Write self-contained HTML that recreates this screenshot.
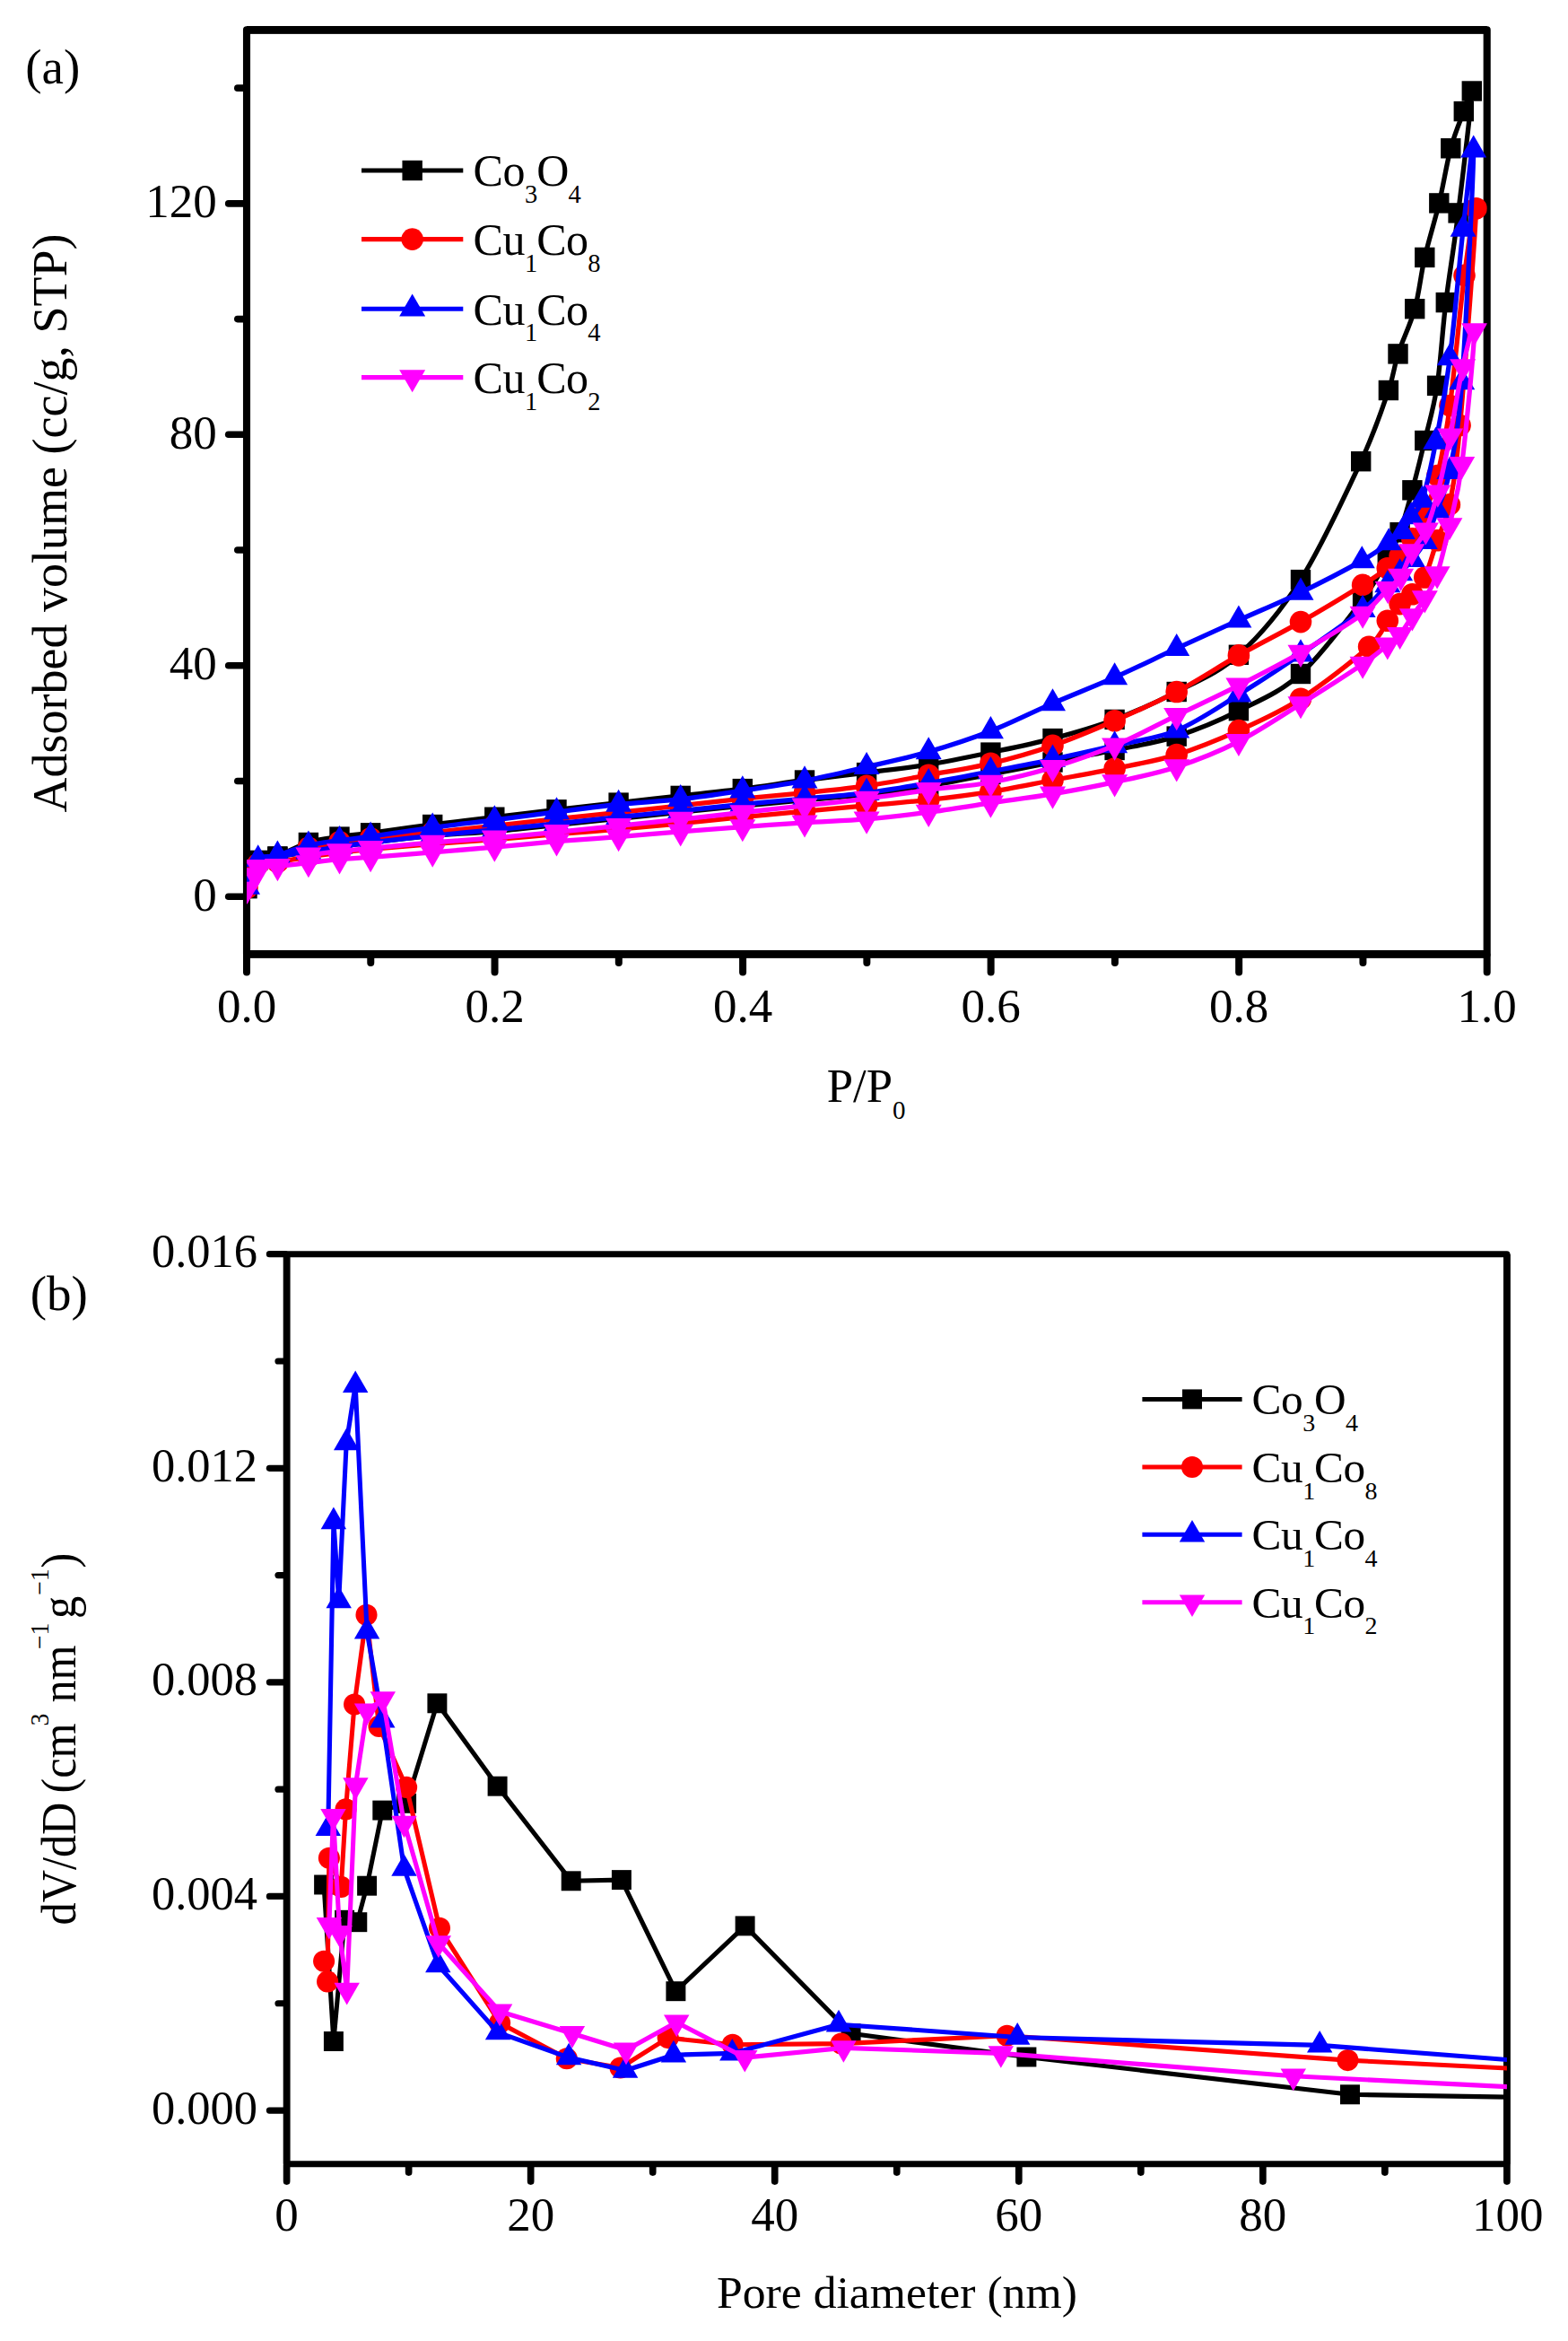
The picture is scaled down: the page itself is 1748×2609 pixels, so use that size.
<!DOCTYPE html>
<html lang="en"><head><meta charset="utf-8"><title>N2 adsorption isotherms and pore size distribution</title>
<style>html,body{margin:0;padding:0;background:#fff}svg{display:block}</style></head>
<body>
<svg width="1748" height="2609" viewBox="0 0 1748 2609" font-family='"Liberation Serif", serif' fill="#000">
<rect width="1748" height="2609" fill="#fff"/>
<defs><clipPath id="ca"><rect x="275.00" y="33.35" width="1382.70" height="1030.05"/></clipPath><clipPath id="cb"><rect x="319.60" y="1397.70" width="1360.30" height="1014.00"/></clipPath></defs>
<g stroke="#000" stroke-width="7.6" stroke-linecap="round">
<line x1="254.7" x2="272" y1="999.20" y2="999.20"/>
<line x1="254.7" x2="272" y1="741.76" y2="741.76"/>
<line x1="254.7" x2="272" y1="484.32" y2="484.32"/>
<line x1="254.7" x2="272" y1="226.88" y2="226.88"/>
<line x1="264.8" x2="272" y1="870.48" y2="870.48"/>
<line x1="264.8" x2="272" y1="613.04" y2="613.04"/>
<line x1="264.8" x2="272" y1="355.60" y2="355.60"/>
<line x1="264.8" x2="272" y1="98.16" y2="98.16"/>
<line x1="275.00" x2="275.00" y1="1065" y2="1083.40" stroke-width="8.0"/>
<line x1="413.27" x2="413.27" y1="1065" y2="1073.10" stroke-width="8.0"/>
<line x1="551.54" x2="551.54" y1="1065" y2="1083.40" stroke-width="8.0"/>
<line x1="689.81" x2="689.81" y1="1065" y2="1073.10" stroke-width="8.0"/>
<line x1="828.08" x2="828.08" y1="1065" y2="1083.40" stroke-width="8.0"/>
<line x1="966.35" x2="966.35" y1="1065" y2="1073.10" stroke-width="8.0"/>
<line x1="1104.62" x2="1104.62" y1="1065" y2="1083.40" stroke-width="8.0"/>
<line x1="1242.89" x2="1242.89" y1="1065" y2="1073.10" stroke-width="8.0"/>
<line x1="1381.16" x2="1381.16" y1="1065" y2="1083.40" stroke-width="8.0"/>
<line x1="1519.43" x2="1519.43" y1="1065" y2="1073.10" stroke-width="8.0"/>
<line x1="1657.70" x2="1657.70" y1="1065" y2="1083.40" stroke-width="8.0"/>
</g>
<g stroke="#000" fill="none"><rect x="275.00" y="33.35" width="1382.70" height="1030.05" stroke-width="8.10" stroke-linejoin="round"/><line x1="275.00" x2="1657.70" y1="33.35" y2="33.35" stroke-width="8.90"/><line x1="275.00" x2="1657.70" y1="1063.40" y2="1063.40" stroke-width="8.90"/></g>
<g stroke="#000" stroke-width="7.2" stroke-linecap="round">
<line x1="300.40" x2="318" y1="2352.05" y2="2352.05"/>
<line x1="310.00" x2="318" y1="2232.76" y2="2232.76"/>
<line x1="300.40" x2="318" y1="2113.46" y2="2113.46"/>
<line x1="310.00" x2="318" y1="1994.17" y2="1994.17"/>
<line x1="300.40" x2="318" y1="1874.87" y2="1874.87"/>
<line x1="310.00" x2="318" y1="1755.58" y2="1755.58"/>
<line x1="300.40" x2="318" y1="1636.29" y2="1636.29"/>
<line x1="310.00" x2="318" y1="1516.99" y2="1516.99"/>
<line x1="300.40" x2="318" y1="1397.70" y2="1397.70"/>
<line x1="319.60" x2="319.60" y1="2413" y2="2431.10" stroke-width="7.7"/>
<line x1="455.63" x2="455.63" y1="2413" y2="2421.10" stroke-width="7.7"/>
<line x1="591.66" x2="591.66" y1="2413" y2="2431.10" stroke-width="7.7"/>
<line x1="727.69" x2="727.69" y1="2413" y2="2421.10" stroke-width="7.7"/>
<line x1="863.72" x2="863.72" y1="2413" y2="2431.10" stroke-width="7.7"/>
<line x1="999.75" x2="999.75" y1="2413" y2="2421.10" stroke-width="7.7"/>
<line x1="1135.78" x2="1135.78" y1="2413" y2="2431.10" stroke-width="7.7"/>
<line x1="1271.81" x2="1271.81" y1="2413" y2="2421.10" stroke-width="7.7"/>
<line x1="1407.84" x2="1407.84" y1="2413" y2="2431.10" stroke-width="7.7"/>
<line x1="1543.87" x2="1543.87" y1="2413" y2="2421.10" stroke-width="7.7"/>
<line x1="1679.90" x2="1679.90" y1="2413" y2="2431.10" stroke-width="7.7"/>
</g>
<g stroke="#000" fill="none"><rect x="319.60" y="1397.70" width="1360.30" height="1014.00" stroke-width="7.10" stroke-linejoin="round"/><line x1="319.60" x2="319.60" y1="1397.70" y2="2411.70" stroke-width="7.80"/><line x1="1679.90" x2="1679.90" y1="1397.70" y2="2411.70" stroke-width="7.80"/></g>
<g font-size="53" text-anchor="middle">
<text x="275.00" y="1139">0.0</text>
<text x="551.54" y="1139">0.2</text>
<text x="828.08" y="1139">0.4</text>
<text x="1104.62" y="1139">0.6</text>
<text x="1381.16" y="1139">0.8</text>
<text x="1657.70" y="1139">1.0</text>
<text x="319.60" y="2486">0</text>
<text x="591.66" y="2486">20</text>
<text x="863.72" y="2486">40</text>
<text x="1135.78" y="2486">60</text>
<text x="1407.84" y="2486">80</text>
<text x="1680.70" y="2486">100</text>
</g>
<g font-size="53" text-anchor="end">
<text x="241.8" y="1014.80">0</text>
<text x="241.8" y="757.36">40</text>
<text x="241.8" y="499.92">80</text>
<text x="241.8" y="242.48">120</text>
<text x="287" y="2366.65" font-size="52.5">0.000</text>
<text x="287" y="2128.06" font-size="52.5">0.004</text>
<text x="287" y="1889.47" font-size="52.5">0.008</text>
<text x="287" y="1650.89" font-size="52.5">0.012</text>
<text x="287" y="1412.30" font-size="52.5">0.016</text>
</g>
<text x="28.3" y="93" font-size="55">(a)</text>
<text x="33.8" y="1460" font-size="55">(b)</text>
<text transform="translate(73.8,905.4) rotate(-90)" font-size="54">Adsorbed volume (cc/g, STP)</text>
<text x="921.8" y="1228.3" font-size="52.7">P/P<tspan font-size="29" dy="19">0</tspan></text>
<text x="799" y="2572.2" font-size="51.7">Pore diameter (nm)</text>
<text transform="translate(84,2145.4) rotate(-90) scale(0.93,1)" font-size="54"><tspan font-size="54" x="0.00" y="0">dV/dD </tspan><tspan font-size="54" x="157.96" y="0">(cm</tspan><tspan font-size="30" x="238.60" y="-30.5">3 </tspan><tspan font-size="54" x="266.56" y="0">nm</tspan><tspan font-size="30" x="330.54" y="-30.5">−</tspan><tspan font-size="30" x="347.20" y="-30.5">1 </tspan><tspan font-size="54" x="367.10" y="0">g</tspan><tspan font-size="30" x="395.27" y="-30.5">−</tspan><tspan font-size="30" x="411.94" y="-30.5">1</tspan><tspan font-size="54" x="427.85" y="0">)</tspan></text>
<line x1="403.00" x2="516.30" y1="190.00" y2="190.00" stroke="#000000" stroke-width="5.10"/>
<rect x="448.45" y="178.80" width="22.40" height="22.40" fill="#000000"/>
<text x="527.60" y="207.40" font-size="50.0" letter-spacing="-0.45">Co<tspan font-size="28.5" dy="18.8">3</tspan><tspan dy="-18.8" dx="-0.7">O</tspan><tspan font-size="28.5" dy="18.8" dx="-0.3">4</tspan></text>
<line x1="403.00" x2="516.30" y1="266.60" y2="266.60" stroke="#ff0000" stroke-width="5.10"/>
<circle cx="459.65" cy="266.60" r="12.30" fill="#ff0000"/>
<text x="527.60" y="284.00" font-size="50.0" letter-spacing="-0.45">Cu<tspan font-size="28.5" dy="18.8">1</tspan><tspan dy="-18.8" dx="-0.7">Co</tspan><tspan font-size="28.5" dy="18.8" dx="-0.3">8</tspan></text>
<line x1="403.00" x2="516.30" y1="344.20" y2="344.20" stroke="#0000ff" stroke-width="5.10"/>
<path d="M459.65,327.46 L474.15,352.57 L445.15,352.57 Z" fill="#0000ff"/>
<text x="527.60" y="361.60" font-size="50.0" letter-spacing="-0.45">Cu<tspan font-size="28.5" dy="18.8">1</tspan><tspan dy="-18.8" dx="-0.7">Co</tspan><tspan font-size="28.5" dy="18.8" dx="-0.3">4</tspan></text>
<line x1="403.00" x2="516.30" y1="420.60" y2="420.60" stroke="#ff00ff" stroke-width="5.10"/>
<path d="M459.65,437.34 L474.15,412.23 L445.15,412.23 Z" fill="#ff00ff"/>
<text x="527.60" y="438.00" font-size="50.0" letter-spacing="-0.45">Cu<tspan font-size="28.5" dy="18.8">1</tspan><tspan dy="-18.8" dx="-0.7">Co</tspan><tspan font-size="28.5" dy="18.8" dx="-0.3">2</tspan></text>
<line x1="1273.40" x2="1384.60" y1="1559.40" y2="1559.40" stroke="#000000" stroke-width="5.00"/>
<rect x="1318.02" y="1548.42" width="21.95" height="21.95" fill="#000000"/>
<text x="1395.60" y="1576.45" font-size="49.3" letter-spacing="-0.45">Co<tspan font-size="28.0" dy="18.5">3</tspan><tspan dy="-18.5" dx="-0.7">O</tspan><tspan font-size="28.0" dy="18.5" dx="-0.3">4</tspan></text>
<line x1="1273.40" x2="1384.60" y1="1635.00" y2="1635.00" stroke="#ff0000" stroke-width="5.00"/>
<circle cx="1329.00" cy="1635.00" r="12.05" fill="#ff0000"/>
<text x="1395.60" y="1652.05" font-size="49.3" letter-spacing="-0.45">Cu<tspan font-size="28.0" dy="18.5">1</tspan><tspan dy="-18.5" dx="-0.7">Co</tspan><tspan font-size="28.0" dy="18.5" dx="-0.3">8</tspan></text>
<line x1="1273.40" x2="1384.60" y1="1710.30" y2="1710.30" stroke="#0000ff" stroke-width="5.00"/>
<path d="M1329.00,1693.89 L1343.21,1718.50 L1314.79,1718.50 Z" fill="#0000ff"/>
<text x="1395.60" y="1727.35" font-size="49.3" letter-spacing="-0.45">Cu<tspan font-size="28.0" dy="18.5">1</tspan><tspan dy="-18.5" dx="-0.7">Co</tspan><tspan font-size="28.0" dy="18.5" dx="-0.3">4</tspan></text>
<line x1="1273.40" x2="1384.60" y1="1785.70" y2="1785.70" stroke="#ff00ff" stroke-width="5.00"/>
<path d="M1329.00,1802.11 L1343.21,1777.50 L1314.79,1777.50 Z" fill="#ff00ff"/>
<text x="1395.60" y="1802.75" font-size="49.3" letter-spacing="-0.45">Cu<tspan font-size="28.0" dy="18.5">1</tspan><tspan dy="-18.5" dx="-0.7">Co</tspan><tspan font-size="28.0" dy="18.5" dx="-0.3">2</tspan></text>
<g clip-path="url(#ca)">
<path d="M275.50,990.19 C277.45,984.97 281.55,964.76 287.20,958.90 C292.85,953.04 299.95,956.60 309.40,955.00 C318.85,953.40 332.38,951.22 343.90,949.30 C355.42,947.38 366.97,945.22 378.50,943.50 C390.03,941.78 395.82,941.03 413.10,939.00 C430.38,936.97 459.17,933.38 482.20,931.30 C505.23,929.22 528.25,928.48 551.30,926.50 C574.35,924.52 597.45,921.77 620.50,919.40 C643.55,917.03 666.57,914.67 689.60,912.30 C712.63,909.93 735.67,907.55 758.70,905.20 C781.73,902.85 804.75,900.45 827.80,898.20 C850.85,895.95 873.95,893.85 897.00,891.70 C920.05,889.55 943.07,887.93 966.10,885.30 C989.13,882.67 1012.15,879.62 1035.20,875.90 C1058.25,872.18 1081.35,867.40 1104.40,863.00 C1127.45,858.60 1150.47,854.00 1173.50,849.50 C1196.53,845.00 1219.57,840.82 1242.60,836.00 C1265.63,831.18 1288.65,827.90 1311.70,820.60 C1334.75,813.30 1357.85,803.80 1380.90,792.20 C1403.95,780.60 1426.97,771.70 1450.00,751.00 C1473.03,730.30 1502.97,689.45 1519.10,668.00 C1535.23,646.55 1539.88,634.75 1546.80,622.30 C1553.72,609.85 1556.00,605.97 1560.60,593.30 C1565.20,580.63 1569.78,563.35 1574.40,546.30 C1579.02,529.25 1583.68,510.42 1588.30,491.00 C1592.92,471.58 1598.18,455.45 1602.10,429.80 C1606.02,404.15 1607.88,369.17 1611.80,337.10 C1615.72,305.03 1620.77,276.67 1625.60,237.40 C1630.43,198.13 1639.77,120.38 1640.80,101.50 C1641.83,82.62 1635.72,113.47 1631.80,124.10 C1627.88,134.73 1621.88,148.25 1617.30,165.30 C1612.72,182.35 1609.13,206.13 1604.30,226.40 C1599.47,246.67 1592.82,267.27 1588.30,286.90 C1583.78,306.53 1582.17,326.28 1577.20,344.20 C1572.23,362.12 1563.38,379.27 1558.50,394.40 C1553.62,409.53 1554.78,415.03 1547.90,435.00 C1541.02,454.97 1533.52,479.02 1517.20,514.20 C1500.88,549.38 1472.72,610.17 1450.00,646.10 C1427.28,682.03 1403.95,708.98 1380.90,729.80 C1357.85,750.62 1334.75,758.98 1311.70,771.00 C1288.65,783.02 1265.63,793.22 1242.60,801.90 C1219.57,810.58 1196.53,816.98 1173.50,823.10 C1150.47,829.22 1127.45,833.77 1104.40,838.60 C1081.35,843.43 1058.25,848.35 1035.20,852.10 C1012.15,855.85 989.13,858.20 966.10,861.10 C943.07,864.00 920.05,866.50 897.00,869.50 C873.95,872.50 850.85,876.20 827.80,879.10 C804.75,882.00 781.73,884.32 758.70,886.90 C735.67,889.48 712.63,892.03 689.60,894.60 C666.57,897.17 643.55,899.62 620.50,902.30 C597.45,904.98 574.35,907.92 551.30,910.70 C528.25,913.48 505.23,916.07 482.20,919.00 C459.17,921.93 430.38,926.03 413.10,928.30 C395.82,930.57 390.03,930.82 378.50,932.60 C366.97,934.38 355.42,935.37 343.90,939.00 C332.38,942.63 315.15,951.83 309.40,954.40" fill="none" stroke="#000000" stroke-width="5.3" stroke-linejoin="round"/>
<rect x="264.30" y="978.99" width="22.40" height="22.40" fill="#000000"/>
<rect x="276.00" y="947.70" width="22.40" height="22.40" fill="#000000"/>
<rect x="298.20" y="943.80" width="22.40" height="22.40" fill="#000000"/>
<rect x="332.70" y="938.10" width="22.40" height="22.40" fill="#000000"/>
<rect x="367.30" y="932.30" width="22.40" height="22.40" fill="#000000"/>
<rect x="401.90" y="927.80" width="22.40" height="22.40" fill="#000000"/>
<rect x="471.00" y="920.10" width="22.40" height="22.40" fill="#000000"/>
<rect x="540.10" y="915.30" width="22.40" height="22.40" fill="#000000"/>
<rect x="609.30" y="908.20" width="22.40" height="22.40" fill="#000000"/>
<rect x="678.40" y="901.10" width="22.40" height="22.40" fill="#000000"/>
<rect x="747.50" y="894.00" width="22.40" height="22.40" fill="#000000"/>
<rect x="816.60" y="887.00" width="22.40" height="22.40" fill="#000000"/>
<rect x="885.80" y="880.50" width="22.40" height="22.40" fill="#000000"/>
<rect x="954.90" y="874.10" width="22.40" height="22.40" fill="#000000"/>
<rect x="1024.00" y="864.70" width="22.40" height="22.40" fill="#000000"/>
<rect x="1093.20" y="851.80" width="22.40" height="22.40" fill="#000000"/>
<rect x="1162.30" y="838.30" width="22.40" height="22.40" fill="#000000"/>
<rect x="1231.40" y="824.80" width="22.40" height="22.40" fill="#000000"/>
<rect x="1300.50" y="809.40" width="22.40" height="22.40" fill="#000000"/>
<rect x="1369.70" y="781.00" width="22.40" height="22.40" fill="#000000"/>
<rect x="1438.80" y="739.80" width="22.40" height="22.40" fill="#000000"/>
<rect x="1507.90" y="656.80" width="22.40" height="22.40" fill="#000000"/>
<rect x="1535.60" y="611.10" width="22.40" height="22.40" fill="#000000"/>
<rect x="1549.40" y="582.10" width="22.40" height="22.40" fill="#000000"/>
<rect x="1563.20" y="535.10" width="22.40" height="22.40" fill="#000000"/>
<rect x="1577.10" y="479.80" width="22.40" height="22.40" fill="#000000"/>
<rect x="1590.90" y="418.60" width="22.40" height="22.40" fill="#000000"/>
<rect x="1600.60" y="325.90" width="22.40" height="22.40" fill="#000000"/>
<rect x="1614.40" y="226.20" width="22.40" height="22.40" fill="#000000"/>
<rect x="1629.60" y="90.30" width="22.40" height="22.40" fill="#000000"/>
<rect x="1620.60" y="112.90" width="22.40" height="22.40" fill="#000000"/>
<rect x="1606.10" y="154.10" width="22.40" height="22.40" fill="#000000"/>
<rect x="1593.10" y="215.20" width="22.40" height="22.40" fill="#000000"/>
<rect x="1577.10" y="275.70" width="22.40" height="22.40" fill="#000000"/>
<rect x="1566.00" y="333.00" width="22.40" height="22.40" fill="#000000"/>
<rect x="1547.30" y="383.20" width="22.40" height="22.40" fill="#000000"/>
<rect x="1536.70" y="423.80" width="22.40" height="22.40" fill="#000000"/>
<rect x="1506.00" y="503.00" width="22.40" height="22.40" fill="#000000"/>
<rect x="1438.80" y="634.90" width="22.40" height="22.40" fill="#000000"/>
<rect x="1369.70" y="718.60" width="22.40" height="22.40" fill="#000000"/>
<rect x="1300.50" y="759.80" width="22.40" height="22.40" fill="#000000"/>
<rect x="1231.40" y="790.70" width="22.40" height="22.40" fill="#000000"/>
<rect x="1162.30" y="811.90" width="22.40" height="22.40" fill="#000000"/>
<rect x="1093.20" y="827.40" width="22.40" height="22.40" fill="#000000"/>
<rect x="1024.00" y="840.90" width="22.40" height="22.40" fill="#000000"/>
<rect x="954.90" y="849.90" width="22.40" height="22.40" fill="#000000"/>
<rect x="885.80" y="858.30" width="22.40" height="22.40" fill="#000000"/>
<rect x="816.60" y="867.90" width="22.40" height="22.40" fill="#000000"/>
<rect x="747.50" y="875.70" width="22.40" height="22.40" fill="#000000"/>
<rect x="678.40" y="883.40" width="22.40" height="22.40" fill="#000000"/>
<rect x="609.30" y="891.10" width="22.40" height="22.40" fill="#000000"/>
<rect x="540.10" y="899.50" width="22.40" height="22.40" fill="#000000"/>
<rect x="471.00" y="907.80" width="22.40" height="22.40" fill="#000000"/>
<rect x="401.90" y="917.10" width="22.40" height="22.40" fill="#000000"/>
<rect x="367.30" y="921.40" width="22.40" height="22.40" fill="#000000"/>
<rect x="332.70" y="927.80" width="22.40" height="22.40" fill="#000000"/>
<rect x="298.20" y="943.20" width="22.40" height="22.40" fill="#000000"/>
<path d="M275.50,989.55 C277.45,985.21 281.55,968.27 287.20,963.50 C292.85,958.73 299.95,962.35 309.40,960.90 C318.85,959.45 332.38,956.57 343.90,954.80 C355.42,953.03 366.97,951.70 378.50,950.30 C390.03,948.90 395.82,948.02 413.10,946.40 C430.38,944.78 459.17,942.42 482.20,940.60 C505.23,938.78 528.25,937.32 551.30,935.50 C574.35,933.68 597.45,931.58 620.50,929.70 C643.55,927.82 666.57,926.18 689.60,924.20 C712.63,922.22 735.67,920.05 758.70,917.80 C781.73,915.55 804.75,912.97 827.80,910.70 C850.85,908.43 873.95,906.35 897.00,904.20 C920.05,902.05 943.07,899.93 966.10,897.80 C989.13,895.67 1012.15,893.98 1035.20,891.40 C1058.25,888.82 1081.35,885.95 1104.40,882.30 C1127.45,878.65 1150.47,873.78 1173.50,869.50 C1196.53,865.22 1219.57,861.33 1242.60,856.60 C1265.63,851.87 1288.65,848.18 1311.70,841.10 C1334.75,834.02 1357.85,824.50 1380.90,814.10 C1403.95,803.70 1425.80,794.25 1450.00,778.70 C1474.20,763.15 1509.97,735.28 1526.10,720.80 C1542.23,706.32 1541.05,699.75 1546.80,691.80 C1552.55,683.85 1556.00,678.03 1560.60,673.10 C1565.20,668.17 1569.78,667.13 1574.40,662.20 C1579.02,657.27 1583.68,653.48 1588.30,643.50 C1592.92,633.52 1597.50,615.82 1602.10,602.30 C1606.70,588.78 1611.65,583.78 1615.90,562.40 C1620.15,541.02 1622.65,529.03 1627.60,474.00 C1632.55,418.97 1644.78,260.05 1645.60,232.20 C1646.42,204.35 1637.37,270.27 1632.50,306.90 C1627.63,343.53 1621.42,414.82 1616.40,452.00 C1611.38,489.18 1607.08,510.10 1602.40,530.00 C1597.72,549.90 1592.97,559.67 1588.30,571.40 C1583.63,583.13 1579.02,592.35 1574.40,600.40 C1569.78,608.45 1565.20,614.23 1560.60,619.70 C1556.00,625.17 1553.72,627.83 1546.80,633.20 C1539.88,638.57 1535.23,641.92 1519.10,651.90 C1502.97,661.88 1473.03,680.02 1450.00,693.10 C1426.97,706.18 1403.95,717.42 1380.90,730.40 C1357.85,743.38 1334.75,758.87 1311.70,771.00 C1288.65,783.13 1265.63,793.22 1242.60,803.20 C1219.57,813.18 1196.53,822.97 1173.50,830.90 C1150.47,838.83 1127.45,845.33 1104.40,850.80 C1081.35,856.27 1058.25,859.52 1035.20,863.70 C1012.15,867.88 989.13,872.58 966.10,875.90 C943.07,879.22 920.05,881.23 897.00,883.60 C873.95,885.97 850.85,887.73 827.80,890.10 C804.75,892.47 781.73,895.23 758.70,897.80 C735.67,900.37 712.63,903.03 689.60,905.50 C666.57,907.97 643.55,910.13 620.50,912.60 C597.45,915.07 574.35,917.77 551.30,920.30 C528.25,922.83 505.23,925.48 482.20,927.80 C459.17,930.12 430.38,932.45 413.10,934.20 C395.82,935.95 390.03,936.53 378.50,938.30 C366.97,940.07 349.67,943.72 343.90,944.80" fill="none" stroke="#ff0000" stroke-width="5.3" stroke-linejoin="round"/>
<circle cx="275.50" cy="989.55" r="12.30" fill="#ff0000"/>
<circle cx="287.20" cy="963.50" r="12.30" fill="#ff0000"/>
<circle cx="309.40" cy="960.90" r="12.30" fill="#ff0000"/>
<circle cx="343.90" cy="954.80" r="12.30" fill="#ff0000"/>
<circle cx="378.50" cy="950.30" r="12.30" fill="#ff0000"/>
<circle cx="413.10" cy="946.40" r="12.30" fill="#ff0000"/>
<circle cx="482.20" cy="940.60" r="12.30" fill="#ff0000"/>
<circle cx="551.30" cy="935.50" r="12.30" fill="#ff0000"/>
<circle cx="620.50" cy="929.70" r="12.30" fill="#ff0000"/>
<circle cx="689.60" cy="924.20" r="12.30" fill="#ff0000"/>
<circle cx="758.70" cy="917.80" r="12.30" fill="#ff0000"/>
<circle cx="827.80" cy="910.70" r="12.30" fill="#ff0000"/>
<circle cx="897.00" cy="904.20" r="12.30" fill="#ff0000"/>
<circle cx="966.10" cy="897.80" r="12.30" fill="#ff0000"/>
<circle cx="1035.20" cy="891.40" r="12.30" fill="#ff0000"/>
<circle cx="1104.40" cy="882.30" r="12.30" fill="#ff0000"/>
<circle cx="1173.50" cy="869.50" r="12.30" fill="#ff0000"/>
<circle cx="1242.60" cy="856.60" r="12.30" fill="#ff0000"/>
<circle cx="1311.70" cy="841.10" r="12.30" fill="#ff0000"/>
<circle cx="1380.90" cy="814.10" r="12.30" fill="#ff0000"/>
<circle cx="1450.00" cy="778.70" r="12.30" fill="#ff0000"/>
<circle cx="1526.10" cy="720.80" r="12.30" fill="#ff0000"/>
<circle cx="1546.80" cy="691.80" r="12.30" fill="#ff0000"/>
<circle cx="1560.60" cy="673.10" r="12.30" fill="#ff0000"/>
<circle cx="1574.40" cy="662.20" r="12.30" fill="#ff0000"/>
<circle cx="1588.30" cy="643.50" r="12.30" fill="#ff0000"/>
<circle cx="1602.10" cy="602.30" r="12.30" fill="#ff0000"/>
<circle cx="1615.90" cy="562.40" r="12.30" fill="#ff0000"/>
<circle cx="1627.60" cy="474.00" r="12.30" fill="#ff0000"/>
<circle cx="1645.60" cy="232.20" r="12.30" fill="#ff0000"/>
<circle cx="1632.50" cy="306.90" r="12.30" fill="#ff0000"/>
<circle cx="1616.40" cy="452.00" r="12.30" fill="#ff0000"/>
<circle cx="1602.40" cy="530.00" r="12.30" fill="#ff0000"/>
<circle cx="1588.30" cy="571.40" r="12.30" fill="#ff0000"/>
<circle cx="1574.40" cy="600.40" r="12.30" fill="#ff0000"/>
<circle cx="1560.60" cy="619.70" r="12.30" fill="#ff0000"/>
<circle cx="1546.80" cy="633.20" r="12.30" fill="#ff0000"/>
<circle cx="1519.10" cy="651.90" r="12.30" fill="#ff0000"/>
<circle cx="1450.00" cy="693.10" r="12.30" fill="#ff0000"/>
<circle cx="1380.90" cy="730.40" r="12.30" fill="#ff0000"/>
<circle cx="1311.70" cy="771.00" r="12.30" fill="#ff0000"/>
<circle cx="1242.60" cy="803.20" r="12.30" fill="#ff0000"/>
<circle cx="1173.50" cy="830.90" r="12.30" fill="#ff0000"/>
<circle cx="1104.40" cy="850.80" r="12.30" fill="#ff0000"/>
<circle cx="1035.20" cy="863.70" r="12.30" fill="#ff0000"/>
<circle cx="966.10" cy="875.90" r="12.30" fill="#ff0000"/>
<circle cx="897.00" cy="883.60" r="12.30" fill="#ff0000"/>
<circle cx="827.80" cy="890.10" r="12.30" fill="#ff0000"/>
<circle cx="758.70" cy="897.80" r="12.30" fill="#ff0000"/>
<circle cx="689.60" cy="905.50" r="12.30" fill="#ff0000"/>
<circle cx="620.50" cy="912.60" r="12.30" fill="#ff0000"/>
<circle cx="551.30" cy="920.30" r="12.30" fill="#ff0000"/>
<circle cx="482.20" cy="927.80" r="12.30" fill="#ff0000"/>
<circle cx="413.10" cy="934.20" r="12.30" fill="#ff0000"/>
<circle cx="378.50" cy="938.30" r="12.30" fill="#ff0000"/>
<circle cx="343.90" cy="944.80" r="12.30" fill="#ff0000"/>
<path d="M275.50,988.26 C277.53,983.22 282.05,963.64 287.70,958.00 C293.35,952.36 300.03,955.85 309.40,954.40 C318.77,952.95 332.38,951.12 343.90,949.30 C355.42,947.48 366.97,945.22 378.50,943.50 C390.03,941.78 395.82,941.03 413.10,939.00 C430.38,936.97 459.17,933.67 482.20,931.30 C505.23,928.93 528.25,927.05 551.30,924.80 C574.35,922.55 597.45,920.15 620.50,917.80 C643.55,915.45 666.57,913.07 689.60,910.70 C712.63,908.33 735.67,905.97 758.70,903.60 C781.73,901.23 804.75,898.75 827.80,896.50 C850.85,894.25 873.95,892.25 897.00,890.10 C920.05,887.95 943.07,886.50 966.10,883.60 C989.13,880.70 1012.15,876.67 1035.20,872.70 C1058.25,868.73 1081.35,864.20 1104.40,859.80 C1127.45,855.40 1150.47,851.12 1173.50,846.30 C1196.53,841.48 1219.57,836.27 1242.60,830.90 C1265.63,825.53 1288.65,823.55 1311.70,814.10 C1334.75,804.65 1357.85,788.37 1380.90,774.20 C1403.95,760.03 1426.97,744.87 1450.00,729.10 C1473.03,713.33 1502.97,692.47 1519.10,679.60 C1535.23,666.73 1539.88,658.67 1546.80,651.90 C1553.72,645.13 1556.00,643.72 1560.60,639.00 C1565.20,634.28 1569.78,629.50 1574.40,623.60 C1579.02,617.70 1583.68,612.72 1588.30,603.60 C1592.92,594.48 1597.50,581.88 1602.10,568.90 C1606.70,555.92 1611.30,549.52 1615.90,525.70 C1620.50,501.88 1625.23,485.75 1629.70,426.00 C1634.17,366.25 1642.47,195.63 1642.70,167.20 C1642.93,138.77 1635.50,216.78 1631.10,255.40 C1626.70,294.02 1621.37,359.42 1616.30,398.90 C1611.23,438.38 1605.83,465.90 1600.70,492.30 C1595.57,518.70 1590.10,543.37 1585.50,557.30 C1580.90,571.23 1576.78,570.00 1573.10,575.90 C1569.42,581.80 1567.55,587.87 1563.40,592.70 C1559.25,597.53 1555.72,599.53 1548.20,604.90 C1540.68,610.27 1534.67,615.67 1518.30,624.90 C1501.93,634.13 1472.90,649.25 1450.00,660.30 C1427.10,671.35 1403.95,680.80 1380.90,691.20 C1357.85,701.60 1334.75,712.08 1311.70,722.70 C1288.65,733.32 1265.63,744.70 1242.60,754.90 C1219.57,765.10 1196.53,773.92 1173.50,783.90 C1150.47,793.88 1127.45,805.80 1104.40,814.80 C1081.35,823.80 1058.25,831.25 1035.20,837.90 C1012.15,844.55 989.13,849.33 966.10,854.70 C943.07,860.07 920.05,865.70 897.00,870.10 C873.95,874.50 850.85,877.67 827.80,881.10 C804.75,884.53 781.73,888.13 758.70,890.70 C735.67,893.27 712.63,894.13 689.60,896.50 C666.57,898.87 643.55,902.00 620.50,904.90 C597.45,907.80 574.35,911.00 551.30,913.90 C528.25,916.80 505.23,919.25 482.20,922.30 C459.17,925.35 430.38,929.80 413.10,932.20 C395.82,934.60 390.03,935.03 378.50,936.70 C366.97,938.37 355.42,939.45 343.90,942.20 C332.38,944.95 315.15,951.37 309.40,953.20" fill="none" stroke="#0000ff" stroke-width="5.3" stroke-linejoin="round"/>
<path d="M275.50,971.52 L290.00,996.63 L261.00,996.63 Z" fill="#0000ff"/>
<path d="M287.70,941.26 L302.20,966.37 L273.20,966.37 Z" fill="#0000ff"/>
<path d="M309.40,937.66 L323.90,962.77 L294.90,962.77 Z" fill="#0000ff"/>
<path d="M343.90,932.56 L358.40,957.67 L329.40,957.67 Z" fill="#0000ff"/>
<path d="M378.50,926.76 L393.00,951.87 L364.00,951.87 Z" fill="#0000ff"/>
<path d="M413.10,922.26 L427.60,947.37 L398.60,947.37 Z" fill="#0000ff"/>
<path d="M482.20,914.56 L496.70,939.67 L467.70,939.67 Z" fill="#0000ff"/>
<path d="M551.30,908.06 L565.80,933.17 L536.80,933.17 Z" fill="#0000ff"/>
<path d="M620.50,901.06 L635.00,926.17 L606.00,926.17 Z" fill="#0000ff"/>
<path d="M689.60,893.96 L704.10,919.07 L675.10,919.07 Z" fill="#0000ff"/>
<path d="M758.70,886.86 L773.20,911.97 L744.20,911.97 Z" fill="#0000ff"/>
<path d="M827.80,879.76 L842.30,904.87 L813.30,904.87 Z" fill="#0000ff"/>
<path d="M897.00,873.36 L911.50,898.47 L882.50,898.47 Z" fill="#0000ff"/>
<path d="M966.10,866.86 L980.60,891.97 L951.60,891.97 Z" fill="#0000ff"/>
<path d="M1035.20,855.96 L1049.70,881.07 L1020.70,881.07 Z" fill="#0000ff"/>
<path d="M1104.40,843.06 L1118.90,868.17 L1089.90,868.17 Z" fill="#0000ff"/>
<path d="M1173.50,829.56 L1188.00,854.67 L1159.00,854.67 Z" fill="#0000ff"/>
<path d="M1242.60,814.16 L1257.10,839.27 L1228.10,839.27 Z" fill="#0000ff"/>
<path d="M1311.70,797.36 L1326.20,822.47 L1297.20,822.47 Z" fill="#0000ff"/>
<path d="M1380.90,757.46 L1395.40,782.57 L1366.40,782.57 Z" fill="#0000ff"/>
<path d="M1450.00,712.36 L1464.50,737.47 L1435.50,737.47 Z" fill="#0000ff"/>
<path d="M1519.10,662.86 L1533.60,687.97 L1504.60,687.97 Z" fill="#0000ff"/>
<path d="M1546.80,635.16 L1561.30,660.27 L1532.30,660.27 Z" fill="#0000ff"/>
<path d="M1560.60,622.26 L1575.10,647.37 L1546.10,647.37 Z" fill="#0000ff"/>
<path d="M1574.40,606.86 L1588.90,631.97 L1559.90,631.97 Z" fill="#0000ff"/>
<path d="M1588.30,586.86 L1602.80,611.97 L1573.80,611.97 Z" fill="#0000ff"/>
<path d="M1602.10,552.16 L1616.60,577.27 L1587.60,577.27 Z" fill="#0000ff"/>
<path d="M1615.90,508.96 L1630.40,534.07 L1601.40,534.07 Z" fill="#0000ff"/>
<path d="M1629.70,409.26 L1644.20,434.37 L1615.20,434.37 Z" fill="#0000ff"/>
<path d="M1642.70,150.46 L1657.20,175.57 L1628.20,175.57 Z" fill="#0000ff"/>
<path d="M1631.10,238.66 L1645.60,263.77 L1616.60,263.77 Z" fill="#0000ff"/>
<path d="M1616.30,382.16 L1630.80,407.27 L1601.80,407.27 Z" fill="#0000ff"/>
<path d="M1600.70,475.56 L1615.20,500.67 L1586.20,500.67 Z" fill="#0000ff"/>
<path d="M1585.50,540.56 L1600.00,565.67 L1571.00,565.67 Z" fill="#0000ff"/>
<path d="M1573.10,559.16 L1587.60,584.27 L1558.60,584.27 Z" fill="#0000ff"/>
<path d="M1563.40,575.96 L1577.90,601.07 L1548.90,601.07 Z" fill="#0000ff"/>
<path d="M1548.20,588.16 L1562.70,613.27 L1533.70,613.27 Z" fill="#0000ff"/>
<path d="M1518.30,608.16 L1532.80,633.27 L1503.80,633.27 Z" fill="#0000ff"/>
<path d="M1450.00,643.56 L1464.50,668.67 L1435.50,668.67 Z" fill="#0000ff"/>
<path d="M1380.90,674.46 L1395.40,699.57 L1366.40,699.57 Z" fill="#0000ff"/>
<path d="M1311.70,705.96 L1326.20,731.07 L1297.20,731.07 Z" fill="#0000ff"/>
<path d="M1242.60,738.16 L1257.10,763.27 L1228.10,763.27 Z" fill="#0000ff"/>
<path d="M1173.50,767.16 L1188.00,792.27 L1159.00,792.27 Z" fill="#0000ff"/>
<path d="M1104.40,798.06 L1118.90,823.17 L1089.90,823.17 Z" fill="#0000ff"/>
<path d="M1035.20,821.16 L1049.70,846.27 L1020.70,846.27 Z" fill="#0000ff"/>
<path d="M966.10,837.96 L980.60,863.07 L951.60,863.07 Z" fill="#0000ff"/>
<path d="M897.00,853.36 L911.50,878.47 L882.50,878.47 Z" fill="#0000ff"/>
<path d="M827.80,864.36 L842.30,889.47 L813.30,889.47 Z" fill="#0000ff"/>
<path d="M758.70,873.96 L773.20,899.07 L744.20,899.07 Z" fill="#0000ff"/>
<path d="M689.60,879.76 L704.10,904.87 L675.10,904.87 Z" fill="#0000ff"/>
<path d="M620.50,888.16 L635.00,913.27 L606.00,913.27 Z" fill="#0000ff"/>
<path d="M551.30,897.16 L565.80,922.27 L536.80,922.27 Z" fill="#0000ff"/>
<path d="M482.20,905.56 L496.70,930.67 L467.70,930.67 Z" fill="#0000ff"/>
<path d="M413.10,915.46 L427.60,940.57 L398.60,940.57 Z" fill="#0000ff"/>
<path d="M378.50,919.96 L393.00,945.07 L364.00,945.07 Z" fill="#0000ff"/>
<path d="M343.90,925.46 L358.40,950.57 L329.40,950.57 Z" fill="#0000ff"/>
<path d="M309.40,936.46 L323.90,961.57 L294.90,961.57 Z" fill="#0000ff"/>
<path d="M275.50,991.10 C277.03,988.53 282.68,979.82 284.70,975.70 C286.72,971.58 283.48,968.12 287.60,966.40 C291.72,964.68 300.02,966.22 309.40,965.40 C318.78,964.58 332.38,962.78 343.90,961.50 C355.42,960.22 366.97,958.72 378.50,957.70 C390.03,956.68 395.82,956.70 413.10,955.40 C430.38,954.10 459.17,951.78 482.20,949.90 C505.23,948.02 528.25,946.13 551.30,944.10 C574.35,942.07 597.45,939.62 620.50,937.70 C643.55,935.78 666.57,934.42 689.60,932.60 C712.63,930.78 735.67,928.63 758.70,926.80 C781.73,924.97 804.75,923.27 827.80,921.60 C850.85,919.93 873.95,918.25 897.00,916.80 C920.05,915.35 943.07,914.83 966.10,912.90 C989.13,910.97 1012.15,908.20 1035.20,905.20 C1058.25,902.20 1081.35,898.28 1104.40,894.90 C1127.45,891.52 1150.47,888.77 1173.50,884.90 C1196.53,881.03 1219.57,876.73 1242.60,871.70 C1265.63,866.67 1288.65,862.27 1311.70,854.70 C1334.75,847.13 1357.85,838.00 1380.90,826.30 C1403.95,814.60 1426.97,798.87 1450.00,784.50 C1473.03,770.13 1502.97,751.05 1519.10,740.10 C1535.23,729.15 1539.88,724.27 1546.80,718.80 C1553.72,713.33 1556.00,712.65 1560.60,707.30 C1565.20,701.95 1569.78,693.47 1574.40,686.70 C1579.02,679.93 1583.68,674.53 1588.30,666.70 C1592.92,658.87 1597.50,653.22 1602.10,639.70 C1606.70,626.18 1611.30,605.98 1615.90,585.60 C1620.50,565.22 1625.08,553.55 1629.70,517.40 C1634.32,481.25 1643.43,386.83 1643.60,368.70 C1643.77,350.57 1635.20,389.08 1630.70,408.60 C1626.20,428.12 1621.25,462.42 1616.60,485.80 C1611.95,509.18 1607.33,531.40 1602.80,548.90 C1598.27,566.40 1594.23,579.85 1589.40,590.80 C1584.57,601.75 1578.43,606.03 1573.80,614.60 C1569.17,623.17 1566.03,635.23 1561.60,642.20 C1557.17,649.17 1554.28,649.42 1547.20,656.40 C1540.12,663.38 1535.30,672.30 1519.10,684.10 C1502.90,695.90 1473.03,713.90 1450.00,727.20 C1426.97,740.50 1403.95,752.20 1380.90,763.90 C1357.85,775.60 1334.75,786.23 1311.70,797.40 C1288.65,808.57 1265.63,821.25 1242.60,830.90 C1219.57,840.55 1196.53,848.45 1173.50,855.30 C1150.47,862.15 1127.45,867.82 1104.40,872.00 C1081.35,876.18 1058.25,877.38 1035.20,880.40 C1012.15,883.42 989.13,887.20 966.10,890.10 C943.07,893.00 920.05,895.23 897.00,897.80 C873.95,900.37 850.85,902.93 827.80,905.50 C804.75,908.07 781.73,910.73 758.70,913.20 C735.67,915.67 712.63,917.93 689.60,920.30 C666.57,922.67 643.55,925.15 620.50,927.40 C597.45,929.65 574.35,931.87 551.30,933.80 C528.25,935.73 505.23,937.07 482.20,939.00 C459.17,940.93 430.38,943.80 413.10,945.40 C395.82,947.00 390.03,947.37 378.50,948.60 C366.97,949.83 349.67,952.10 343.90,952.80" fill="none" stroke="#ff00ff" stroke-width="5.3" stroke-linejoin="round"/>
<path d="M275.50,1007.84 L290.00,982.73 L261.00,982.73 Z" fill="#ff00ff"/>
<path d="M284.70,992.44 L299.20,967.33 L270.20,967.33 Z" fill="#ff00ff"/>
<path d="M287.60,983.14 L302.10,958.03 L273.10,958.03 Z" fill="#ff00ff"/>
<path d="M309.40,982.14 L323.90,957.03 L294.90,957.03 Z" fill="#ff00ff"/>
<path d="M343.90,978.24 L358.40,953.13 L329.40,953.13 Z" fill="#ff00ff"/>
<path d="M378.50,974.44 L393.00,949.33 L364.00,949.33 Z" fill="#ff00ff"/>
<path d="M413.10,972.14 L427.60,947.03 L398.60,947.03 Z" fill="#ff00ff"/>
<path d="M482.20,966.64 L496.70,941.53 L467.70,941.53 Z" fill="#ff00ff"/>
<path d="M551.30,960.84 L565.80,935.73 L536.80,935.73 Z" fill="#ff00ff"/>
<path d="M620.50,954.44 L635.00,929.33 L606.00,929.33 Z" fill="#ff00ff"/>
<path d="M689.60,949.34 L704.10,924.23 L675.10,924.23 Z" fill="#ff00ff"/>
<path d="M758.70,943.54 L773.20,918.43 L744.20,918.43 Z" fill="#ff00ff"/>
<path d="M827.80,938.34 L842.30,913.23 L813.30,913.23 Z" fill="#ff00ff"/>
<path d="M897.00,933.54 L911.50,908.43 L882.50,908.43 Z" fill="#ff00ff"/>
<path d="M966.10,929.64 L980.60,904.53 L951.60,904.53 Z" fill="#ff00ff"/>
<path d="M1035.20,921.94 L1049.70,896.83 L1020.70,896.83 Z" fill="#ff00ff"/>
<path d="M1104.40,911.64 L1118.90,886.53 L1089.90,886.53 Z" fill="#ff00ff"/>
<path d="M1173.50,901.64 L1188.00,876.53 L1159.00,876.53 Z" fill="#ff00ff"/>
<path d="M1242.60,888.44 L1257.10,863.33 L1228.10,863.33 Z" fill="#ff00ff"/>
<path d="M1311.70,871.44 L1326.20,846.33 L1297.20,846.33 Z" fill="#ff00ff"/>
<path d="M1380.90,843.04 L1395.40,817.93 L1366.40,817.93 Z" fill="#ff00ff"/>
<path d="M1450.00,801.24 L1464.50,776.13 L1435.50,776.13 Z" fill="#ff00ff"/>
<path d="M1519.10,756.84 L1533.60,731.73 L1504.60,731.73 Z" fill="#ff00ff"/>
<path d="M1546.80,735.54 L1561.30,710.43 L1532.30,710.43 Z" fill="#ff00ff"/>
<path d="M1560.60,724.04 L1575.10,698.93 L1546.10,698.93 Z" fill="#ff00ff"/>
<path d="M1574.40,703.44 L1588.90,678.33 L1559.90,678.33 Z" fill="#ff00ff"/>
<path d="M1588.30,683.44 L1602.80,658.33 L1573.80,658.33 Z" fill="#ff00ff"/>
<path d="M1602.10,656.44 L1616.60,631.33 L1587.60,631.33 Z" fill="#ff00ff"/>
<path d="M1615.90,602.34 L1630.40,577.23 L1601.40,577.23 Z" fill="#ff00ff"/>
<path d="M1629.70,534.14 L1644.20,509.03 L1615.20,509.03 Z" fill="#ff00ff"/>
<path d="M1643.60,385.44 L1658.10,360.33 L1629.10,360.33 Z" fill="#ff00ff"/>
<path d="M1630.70,425.34 L1645.20,400.23 L1616.20,400.23 Z" fill="#ff00ff"/>
<path d="M1616.60,502.54 L1631.10,477.43 L1602.10,477.43 Z" fill="#ff00ff"/>
<path d="M1602.80,565.64 L1617.30,540.53 L1588.30,540.53 Z" fill="#ff00ff"/>
<path d="M1589.40,607.54 L1603.90,582.43 L1574.90,582.43 Z" fill="#ff00ff"/>
<path d="M1573.80,631.34 L1588.30,606.23 L1559.30,606.23 Z" fill="#ff00ff"/>
<path d="M1561.60,658.94 L1576.10,633.83 L1547.10,633.83 Z" fill="#ff00ff"/>
<path d="M1547.20,673.14 L1561.70,648.03 L1532.70,648.03 Z" fill="#ff00ff"/>
<path d="M1519.10,700.84 L1533.60,675.73 L1504.60,675.73 Z" fill="#ff00ff"/>
<path d="M1450.00,743.94 L1464.50,718.83 L1435.50,718.83 Z" fill="#ff00ff"/>
<path d="M1380.90,780.64 L1395.40,755.53 L1366.40,755.53 Z" fill="#ff00ff"/>
<path d="M1311.70,814.14 L1326.20,789.03 L1297.20,789.03 Z" fill="#ff00ff"/>
<path d="M1242.60,847.64 L1257.10,822.53 L1228.10,822.53 Z" fill="#ff00ff"/>
<path d="M1173.50,872.04 L1188.00,846.93 L1159.00,846.93 Z" fill="#ff00ff"/>
<path d="M1104.40,888.74 L1118.90,863.63 L1089.90,863.63 Z" fill="#ff00ff"/>
<path d="M1035.20,897.14 L1049.70,872.03 L1020.70,872.03 Z" fill="#ff00ff"/>
<path d="M966.10,906.84 L980.60,881.73 L951.60,881.73 Z" fill="#ff00ff"/>
<path d="M897.00,914.54 L911.50,889.43 L882.50,889.43 Z" fill="#ff00ff"/>
<path d="M827.80,922.24 L842.30,897.13 L813.30,897.13 Z" fill="#ff00ff"/>
<path d="M758.70,929.94 L773.20,904.83 L744.20,904.83 Z" fill="#ff00ff"/>
<path d="M689.60,937.04 L704.10,911.93 L675.10,911.93 Z" fill="#ff00ff"/>
<path d="M620.50,944.14 L635.00,919.03 L606.00,919.03 Z" fill="#ff00ff"/>
<path d="M551.30,950.54 L565.80,925.43 L536.80,925.43 Z" fill="#ff00ff"/>
<path d="M482.20,955.74 L496.70,930.63 L467.70,930.63 Z" fill="#ff00ff"/>
<path d="M413.10,962.14 L427.60,937.03 L398.60,937.03 Z" fill="#ff00ff"/>
<path d="M378.50,965.34 L393.00,940.23 L364.00,940.23 Z" fill="#ff00ff"/>
<path d="M343.90,969.54 L358.40,944.43 L329.40,944.43 Z" fill="#ff00ff"/>
</g>
<g clip-path="url(#cb)">
<path d="M361.10,2100.50 L371.90,2275.00 L384.10,2139.80 L398.30,2142.20 L409.10,2101.70 L426.30,2017.60 L453.10,2009.80 L487.40,1898.30 L554.60,1990.70 L636.70,2096.30 L692.90,2095.10 L753.40,2219.20 L830.60,2146.40 L948.60,2266.30 L1144.40,2292.50 L1505.00,2334.30 L1951.90,2341.50" fill="none" stroke="#000000" stroke-width="5.1" stroke-linejoin="round"/>
<rect x="350.12" y="2089.52" width="21.95" height="21.95" fill="#000000"/>
<rect x="360.92" y="2264.02" width="21.95" height="21.95" fill="#000000"/>
<rect x="373.12" y="2128.82" width="21.95" height="21.95" fill="#000000"/>
<rect x="387.32" y="2131.22" width="21.95" height="21.95" fill="#000000"/>
<rect x="398.12" y="2090.72" width="21.95" height="21.95" fill="#000000"/>
<rect x="415.32" y="2006.62" width="21.95" height="21.95" fill="#000000"/>
<rect x="442.12" y="1998.82" width="21.95" height="21.95" fill="#000000"/>
<rect x="476.42" y="1887.32" width="21.95" height="21.95" fill="#000000"/>
<rect x="543.62" y="1979.72" width="21.95" height="21.95" fill="#000000"/>
<rect x="625.72" y="2085.32" width="21.95" height="21.95" fill="#000000"/>
<rect x="681.92" y="2084.12" width="21.95" height="21.95" fill="#000000"/>
<rect x="742.42" y="2208.22" width="21.95" height="21.95" fill="#000000"/>
<rect x="819.62" y="2135.42" width="21.95" height="21.95" fill="#000000"/>
<rect x="937.62" y="2255.32" width="21.95" height="21.95" fill="#000000"/>
<rect x="1133.42" y="2281.52" width="21.95" height="21.95" fill="#000000"/>
<rect x="1494.02" y="2323.32" width="21.95" height="21.95" fill="#000000"/>
<rect x="1940.92" y="2330.52" width="21.95" height="21.95" fill="#000000"/>
<path d="M361.10,2185.80 L365.10,2208.40 L366.90,2070.70 L380.30,2102.90 L385.50,2016.40 L395.10,1899.50 L408.50,1799.80 L422.50,1923.90 L453.10,1991.90 L490.00,2148.80 L557.10,2254.40 L631.80,2294.30 L691.60,2304.50 L744.70,2271.10 L816.70,2278.80 L937.70,2277.60 L1122.60,2268.70 L1502.40,2296.10 L1951.90,2318.80" fill="none" stroke="#ff0000" stroke-width="5.1" stroke-linejoin="round"/>
<circle cx="361.10" cy="2185.80" r="12.05" fill="#ff0000"/>
<circle cx="365.10" cy="2208.40" r="12.05" fill="#ff0000"/>
<circle cx="366.90" cy="2070.70" r="12.05" fill="#ff0000"/>
<circle cx="380.30" cy="2102.90" r="12.05" fill="#ff0000"/>
<circle cx="385.50" cy="2016.40" r="12.05" fill="#ff0000"/>
<circle cx="395.10" cy="1899.50" r="12.05" fill="#ff0000"/>
<circle cx="408.50" cy="1799.80" r="12.05" fill="#ff0000"/>
<circle cx="422.50" cy="1923.90" r="12.05" fill="#ff0000"/>
<circle cx="453.10" cy="1991.90" r="12.05" fill="#ff0000"/>
<circle cx="490.00" cy="2148.80" r="12.05" fill="#ff0000"/>
<circle cx="557.10" cy="2254.40" r="12.05" fill="#ff0000"/>
<circle cx="631.80" cy="2294.30" r="12.05" fill="#ff0000"/>
<circle cx="691.60" cy="2304.50" r="12.05" fill="#ff0000"/>
<circle cx="744.70" cy="2271.10" r="12.05" fill="#ff0000"/>
<circle cx="816.70" cy="2278.80" r="12.05" fill="#ff0000"/>
<circle cx="937.70" cy="2277.60" r="12.05" fill="#ff0000"/>
<circle cx="1122.60" cy="2268.70" r="12.05" fill="#ff0000"/>
<circle cx="1502.40" cy="2296.10" r="12.05" fill="#ff0000"/>
<circle cx="1951.90" cy="2318.80" r="12.05" fill="#ff0000"/>
<path d="M365.80,2037.80 L371.90,1696.00 L377.70,1784.10 L386.20,1608.00 L396.20,1543.90 L409.10,1818.30 L426.30,1917.20 L450.50,2082.60 L488.30,2190.00 L555.10,2265.10 L634.10,2293.10 L697.10,2307.50 L750.90,2290.20 L816.30,2288.40 L935.00,2256.20 L1134.20,2270.50 L1471.20,2279.40 L1951.90,2316.40" fill="none" stroke="#0000ff" stroke-width="5.1" stroke-linejoin="round"/>
<path d="M365.80,2021.39 L380.01,2046.00 L351.59,2046.00 Z" fill="#0000ff"/>
<path d="M371.90,1679.59 L386.11,1704.20 L357.69,1704.20 Z" fill="#0000ff"/>
<path d="M377.70,1767.69 L391.91,1792.30 L363.49,1792.30 Z" fill="#0000ff"/>
<path d="M386.20,1591.59 L400.41,1616.20 L371.99,1616.20 Z" fill="#0000ff"/>
<path d="M396.20,1527.49 L410.41,1552.10 L381.99,1552.10 Z" fill="#0000ff"/>
<path d="M409.10,1801.89 L423.31,1826.50 L394.89,1826.50 Z" fill="#0000ff"/>
<path d="M426.30,1900.79 L440.51,1925.40 L412.09,1925.40 Z" fill="#0000ff"/>
<path d="M450.50,2066.19 L464.71,2090.80 L436.29,2090.80 Z" fill="#0000ff"/>
<path d="M488.30,2173.59 L502.51,2198.20 L474.09,2198.20 Z" fill="#0000ff"/>
<path d="M555.10,2248.69 L569.31,2273.30 L540.89,2273.30 Z" fill="#0000ff"/>
<path d="M634.10,2276.69 L648.31,2301.30 L619.89,2301.30 Z" fill="#0000ff"/>
<path d="M697.10,2291.09 L711.31,2315.70 L682.89,2315.70 Z" fill="#0000ff"/>
<path d="M750.90,2273.79 L765.11,2298.40 L736.69,2298.40 Z" fill="#0000ff"/>
<path d="M816.30,2271.99 L830.51,2296.60 L802.09,2296.60 Z" fill="#0000ff"/>
<path d="M935.00,2239.79 L949.21,2264.40 L920.79,2264.40 Z" fill="#0000ff"/>
<path d="M1134.20,2254.09 L1148.41,2278.70 L1119.99,2278.70 Z" fill="#0000ff"/>
<path d="M1471.20,2262.99 L1485.41,2287.60 L1456.99,2287.60 Z" fill="#0000ff"/>
<path d="M1951.90,2299.99 L1966.11,2324.60 L1937.69,2324.60 Z" fill="#0000ff"/>
<path d="M366.90,2145.20 L371.50,2024.10 L378.60,2154.20 L386.70,2218.00 L396.40,1989.50 L409.10,1906.60 L426.80,1893.50 L450.50,2031.90 L488.80,2165.50 L557.10,2241.80 L637.90,2266.30 L698.00,2284.80 L754.20,2253.80 L830.30,2293.10 L940.40,2282.40 L1115.80,2288.40 L1441.80,2313.80 L1951.90,2339.10" fill="none" stroke="#ff00ff" stroke-width="5.1" stroke-linejoin="round"/>
<path d="M366.90,2161.61 L381.11,2137.00 L352.69,2137.00 Z" fill="#ff00ff"/>
<path d="M371.50,2040.51 L385.71,2015.90 L357.29,2015.90 Z" fill="#ff00ff"/>
<path d="M378.60,2170.61 L392.81,2146.00 L364.39,2146.00 Z" fill="#ff00ff"/>
<path d="M386.70,2234.41 L400.91,2209.80 L372.49,2209.80 Z" fill="#ff00ff"/>
<path d="M396.40,2005.91 L410.61,1981.30 L382.19,1981.30 Z" fill="#ff00ff"/>
<path d="M409.10,1923.01 L423.31,1898.40 L394.89,1898.40 Z" fill="#ff00ff"/>
<path d="M426.80,1909.91 L441.01,1885.30 L412.59,1885.30 Z" fill="#ff00ff"/>
<path d="M450.50,2048.31 L464.71,2023.70 L436.29,2023.70 Z" fill="#ff00ff"/>
<path d="M488.80,2181.91 L503.01,2157.30 L474.59,2157.30 Z" fill="#ff00ff"/>
<path d="M557.10,2258.21 L571.31,2233.60 L542.89,2233.60 Z" fill="#ff00ff"/>
<path d="M637.90,2282.71 L652.11,2258.10 L623.69,2258.10 Z" fill="#ff00ff"/>
<path d="M698.00,2301.21 L712.21,2276.60 L683.79,2276.60 Z" fill="#ff00ff"/>
<path d="M754.20,2270.21 L768.41,2245.60 L739.99,2245.60 Z" fill="#ff00ff"/>
<path d="M830.30,2309.51 L844.51,2284.90 L816.09,2284.90 Z" fill="#ff00ff"/>
<path d="M940.40,2298.81 L954.61,2274.20 L926.19,2274.20 Z" fill="#ff00ff"/>
<path d="M1115.80,2304.81 L1130.01,2280.20 L1101.59,2280.20 Z" fill="#ff00ff"/>
<path d="M1441.80,2330.21 L1456.01,2305.60 L1427.59,2305.60 Z" fill="#ff00ff"/>
<path d="M1951.90,2355.51 L1966.11,2330.90 L1937.69,2330.90 Z" fill="#ff00ff"/>
</g>
</svg>
</body></html>
